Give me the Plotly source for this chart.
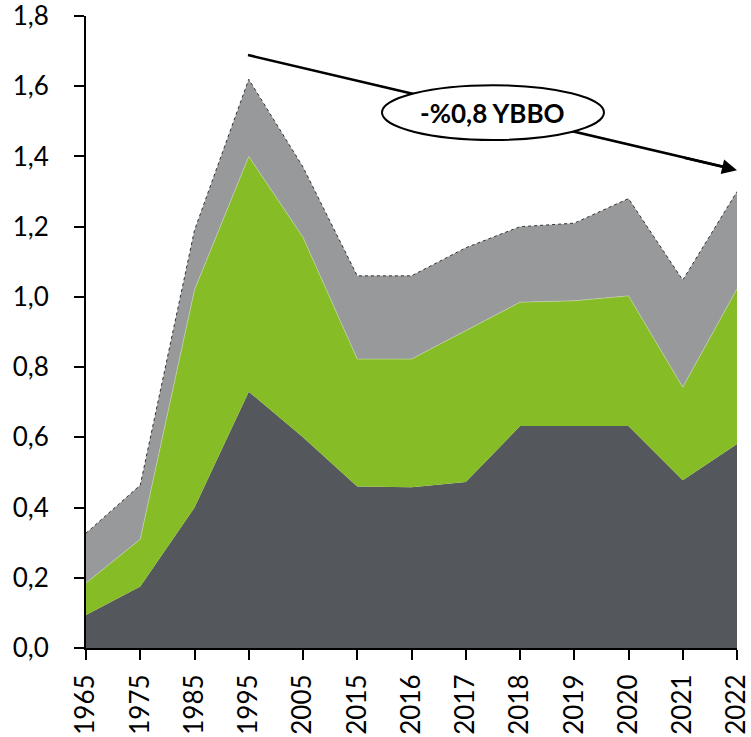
import plotly.graph_objects as go

years = ["1965", "1975", "1985", "1995", "2005", "2015", "2016", "2017", "2018", "2019", "2020", "2021", "2022"]
# layer thicknesses
dark = [0.094, 0.175, 0.40, 0.73, 0.60, 0.46, 0.458, 0.473, 0.632, 0.632, 0.632, 0.478, 0.581]
green = [0.091, 0.135, 0.62, 0.67, 0.57, 0.363, 0.365, 0.431, 0.353, 0.357, 0.371, 0.265, 0.442]
gray = [0.142, 0.154, 0.17, 0.22, 0.20, 0.237, 0.237, 0.236, 0.215, 0.221, 0.277, 0.305, 0.277]

y_ticks = [0, 0.2, 0.4, 0.6, 0.8, 1.0, 1.2, 1.4, 1.6, 1.8]
y_labels = ["0,0", "0,2", "0,4", "0,6", "0,8", "1,0", "1,2", "1,4", "1,6", "1,8"]
note_text = "<b>-%0,8 YBBO</b>"

fig = go.Figure()
fig.add_trace(go.Scatter(x=years, y=dark, stackgroup="s", mode="lines",
                         line=dict(width=0, color="#54575C"), fillcolor="#54575C"))
fig.add_trace(go.Scatter(x=years, y=green, stackgroup="s", mode="lines",
                         line=dict(width=0.6, color="#C8D8A8"), fillcolor="#86BC25"))
fig.add_trace(go.Scatter(x=years, y=gray, stackgroup="s", mode="lines",
                         line=dict(width=1, color="#333333", dash="dot"), fillcolor="#97999B"))

# arrow line (behind ellipse)
fig.add_shape(type="line", x0=2.986, y0=1.689, x1=11.85, y1=1.367,
              line=dict(color="black", width=2.5), layer="above")
fig.add_shape(type="circle", x0=5.456, x1=9.548, y0=1.447, y1=1.603,
              line=dict(color="black", width=2), fillcolor="white", layer="above")
fig.add_annotation(x=12, y=1.361, ax=11.0, ay=1.3975, axref="x", ayref="y",
                   xref="x", yref="y", showarrow=True, arrowhead=2, arrowsize=1.2,
                   arrowwidth=2.5, arrowcolor="black", text="")
fig.add_annotation(x=7.502, y=1.525, xref="x", yref="y", text=note_text, showarrow=False,
                   font=dict(family="Lato", size=26, color="black"))

fig.update_layout(
    width=751, height=737,
    margin=dict(l=86, r=14, t=16, b=89, autoexpand=False),
    plot_bgcolor="white", paper_bgcolor="white",
    showlegend=False,
)
fig.update_xaxes(type="category", range=[0, 12], showline=True, linecolor="black", linewidth=2,
                 ticks="outside", ticklen=10, tickwidth=2, tickcolor="black",
                 tickangle=-90, tickfont=dict(family="Lato", size=26, color="black"),
                 ticklabelstandoff=4, ticklabeloverflow="allow",
                 showgrid=False, zeroline=False, automargin=False)
fig.update_yaxes(range=[0, 1.8001], tickvals=y_ticks, ticktext=y_labels, showline=True,
                 linecolor="black", linewidth=2, ticks="outside", ticklen=10, tickwidth=2,
                 tickcolor="black", tickfont=dict(family="Lato", size=26, color="black"),
                 ticklabelstandoff=20, ticklabeloverflow="allow",
                 showgrid=False, zeroline=False, automargin=False)

fig.write_html("out.html", config={"displayModeBar": False},
               post_script="document.body.style.margin='0';")
